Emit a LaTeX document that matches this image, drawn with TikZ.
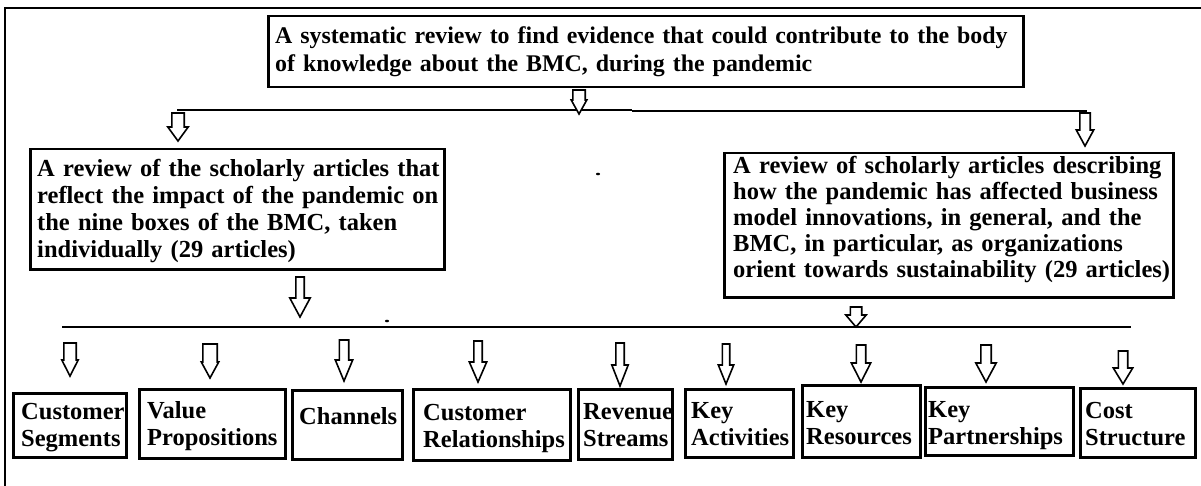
\documentclass[tikz,border=0pt]{standalone}
\usepackage{fontspec}
\setmainfont{Liberation Serif}
\newcommand\mkbox[5]{% name, x1, y1, x2, y2
  \node[boxstyle, anchor=north west, minimum width={(#4-#2)*1pt}, minimum height={(#5-#3)*1pt}] (#1) at (#2,#3) {};}
\newcommand\barrow[6]{% x, ytop, yhead, ytip, shaft half, head half
  \draw[arrowline] ({#1-#5},#2) -- ({#1+#5},#2) -- ({#1+#5},#3) -- ({#1+#6},#3) -- (#1,#4) -- ({#1-#6},#3) -- ({#1-#5},#3) -- cycle;}
\begin{document}
\begin{tikzpicture}[x=1pt,y=-1pt,
  boxstyle/.style={draw=black, line width=2.5pt, inner sep=0pt},
  txt/.style={font=\fontsize{24.5}{27}\selectfont\bfseries, inner sep=0pt, align=left, anchor=base west, text width=520pt},
  arrowline/.style={draw=black, line width=1.6pt, fill=white, line join=miter},
  rule/.style={draw=black, line width=2pt}]
\useasboundingbox (0,0) rectangle (1201,486);
\clip (0,0) rectangle (1201,486);
\fill[white] (0,0) rectangle (1201,486);
% outer frame
\coordinate (fa) at (5,496);
\coordinate (fb) at (5,8);
\coordinate (fc) at (1211,8);
\draw[line width=2pt] (fa) -- (fb) -- (fc);
% top box
\mkbox{top}{267}{15}{1022}{86}
\node[txt, text width=800pt, font=\fontsize{23.9}{27.5}\selectfont\bfseries] (toptxt) at (275,44)
  {A systematic review to find evidence that could contribute to the body\\of knowledge about the BMC, during the pandemic};
% first rule
\coordinate (r1a) at (177,110);
\coordinate (r1b) at (632,110);
\coordinate (r1c) at (632,111);
\coordinate (r1d) at (1087,111);
\draw[rule] (r1a) -- (r1b);
\draw[rule] (r1c) -- (r1d);
\barrow{579}{90}{100}{114}{6.2}{7.8}
\barrow{178}{113}{127}{141}{6.2}{10.2}
\barrow{1085}{113}{130}{146}{5.2}{8.7}
% middle boxes
\mkbox{left}{29}{148}{443}{268}
\node[txt, font=\fontsize{24.5}{27}\selectfont\bfseries] (lefttxt) at (37,177)
  {A review of the scholarly articles that\\reflect the impact of the pandemic on\\the nine boxes of the BMC, taken\\individually (29 articles)};
\mkbox{right}{723}{152}{1172}{296}
\node[txt, font=\fontsize{24.5}{26}\selectfont\bfseries] (righttxt) at (733,174)
  {A review of scholarly articles describing\\how the pandemic has affected business\\model innovations, in general, and the\\BMC, in particular, as organizations\\orient towards sustainability (29 articles)};
\fill (598,174) ellipse [x radius=2pt, y radius=1.3pt];
\barrow{300}{277}{298}{317}{4.2}{10.2}
\barrow{856}{307}{315}{327}{5.7}{10.2}
% second rule
\coordinate (r2a) at (62,327);
\coordinate (r2b) at (1131,327);
\draw[rule] (r2a) -- (r2b);
\fill (387,321) ellipse [x radius=2pt, y radius=1.3pt];
% bottom arrows
\barrow{70}{343}{360}{376}{6.2}{8.2}
\barrow{210}{344}{362}{378}{7.2}{8.7}
\barrow{344}{340}{360}{381}{4.7}{8.7}
\barrow{478}{341}{362}{382}{4.2}{8.7}
\barrow{620}{343}{365}{386}{4.2}{8.2}
\barrow{726}{344}{365}{384}{3.7}{7.7}
\barrow{861}{345}{363}{382}{4.7}{9.7}
\barrow{986}{345}{363}{382}{5.2}{10.2}
\barrow{1123}{351}{368}{384}{4.7}{9.7}
% bottom boxes
\mkbox{cs}{12}{392}{125}{456}
\node[txt] (cstxt) at (21,419) {Customer\\Segments};
\mkbox{vp}{138}{388}{284}{457}
\node[txt] (vptxt) at (147,418) {Value\\Propositions};
\mkbox{ch}{291}{389}{401}{458}
\node[txt] (chtxt) at (299,424) {Channels};
\mkbox{cr}{412}{388}{569}{459}
\node[txt] (crtxt) at (423,420) {Customer\\Relationships};
\mkbox{rs}{577}{388}{671}{458}
\node[txt] (rstxt) at (583,419) {Revenue\\Streams};
\mkbox{ka}{684}{388}{792}{456}
\node[txt] (katxt) at (691,418) {Key\\Activities};
\mkbox{kr}{801}{384}{919}{456}
\node[txt] (krtxt) at (806,417) {Key\\Resources};
\mkbox{kp}{924}{386}{1072}{454}
\node[txt] (kptxt) at (928,417) {Key\\Partnerships};
\mkbox{cost}{1079}{387}{1194}{456}
\node[txt] (costtxt) at (1085,418) {Cost\\Structure};
\end{tikzpicture}
\end{document}
